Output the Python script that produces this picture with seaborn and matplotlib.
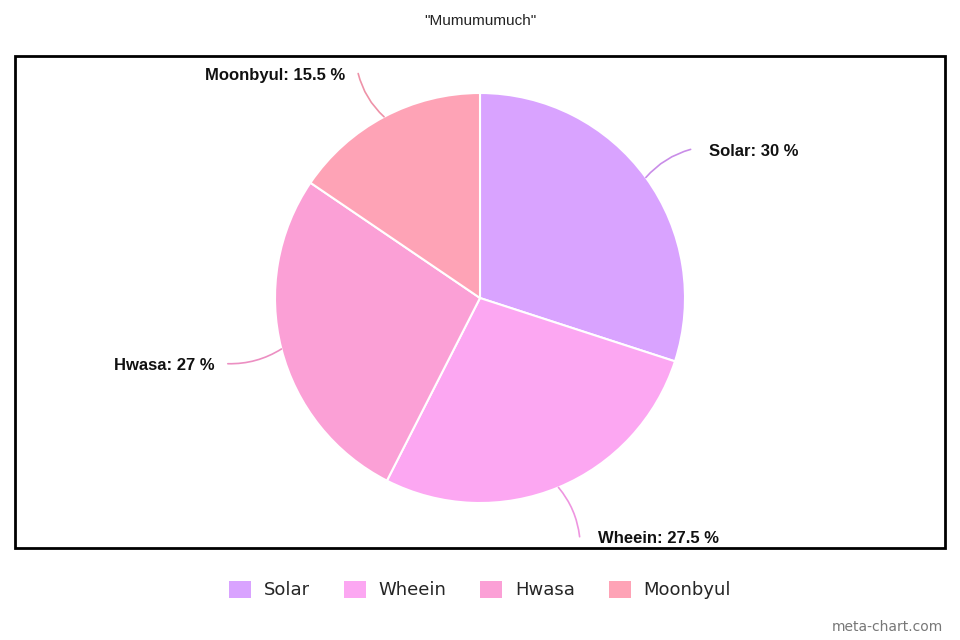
import numpy as np
import pandas as pd
import matplotlib
matplotlib.use("Agg")
import matplotlib.pyplot as plt
from matplotlib.patches import Patch, Rectangle
import seaborn as sns

categories = ["Solar", "Wheein", "Hwasa", "Moonbyul"]
values = [30, 27.5, 27, 15.5]
label_texts = ["Solar: 30 %", "Wheein: 27.5 %", "Hwasa: 27 %", "Moonbyul: 15.5 %"]
colors = ["#d9a3ff", "#fca7f2", "#fba0d6", "#fea3b6"]
title = '"Mumumumuch"'

df = pd.DataFrame({"name": categories, "value": values, "label": label_texts})

sns.set_theme(style="white")
plt.rcParams["font.family"] = ["Liberation Sans", "DejaVu Sans"]

fig = plt.figure(figsize=(9.6, 6.4), dpi=100)
ax = fig.add_axes([0, 0, 1, 1])

cx, cy, R = 480, 342, 205
wedges, _ = ax.pie(df["value"], colors=colors, startangle=90, counterclock=False,
                   center=(cx, cy), radius=R,
                   wedgeprops=dict(edgecolor="white", linewidth=1.5))
ax.set_xlim(0, 960)
ax.set_ylim(0, 640)
ax.set_aspect("equal")
ax.axis("off")

line_colors = ["#c98de8", "#ee95e0", "#ec8fc2", "#ee92a8"]
for w, lab, lc in zip(wedges, df["label"], line_colors):
    ang = np.deg2rad((w.theta1 + w.theta2) / 2)
    ex, ey = cx + R * np.cos(ang), cy + R * np.sin(ang)
    lx, ly = cx + 1.27 * R * np.cos(ang), cy + 1.25 * R * np.sin(ang) - 2
    right = np.cos(ang) > 0
    ax.annotate("", xy=(ex, ey), xytext=(lx, ly),
                arrowprops=dict(arrowstyle="-", color=lc, lw=1.2,
                                shrinkA=0, shrinkB=0,
                                connectionstyle="arc3,rad=0.15"))
    tx = lx + (18 if right else -13)
    ax.text(tx, ly - 2, lab, ha="left" if right else "right", va="center",
            fontsize=12, fontweight="bold", color="#111111")

# frame
fig.patches.append(Rectangle((15 / 960, 1 - 548 / 640), 930 / 960, 492 / 640,
                             transform=fig.transFigure, fill=False,
                             edgecolor="black", linewidth=2))

fig.text(0.5, 1 - 21 / 640, title, ha="center", va="center", fontsize=11, color="#222222")

handles = [Patch(facecolor=c, edgecolor="none") for c in colors]
fig.legend(handles, categories, loc="center", bbox_to_anchor=(0.5, 1 - 590 / 640),
           ncol=4, frameon=False, handlelength=1.2, handleheight=1.1,
           columnspacing=1.9, handletextpad=0.7,
           prop={"family": "DejaVu Sans", "size": 13})

fig.text(943 / 960, 1 - 627 / 640, "meta-chart.com", ha="right", va="center",
         fontsize=10, color="#777777", family="DejaVu Sans")

fig.savefig("out.png", dpi=100)
